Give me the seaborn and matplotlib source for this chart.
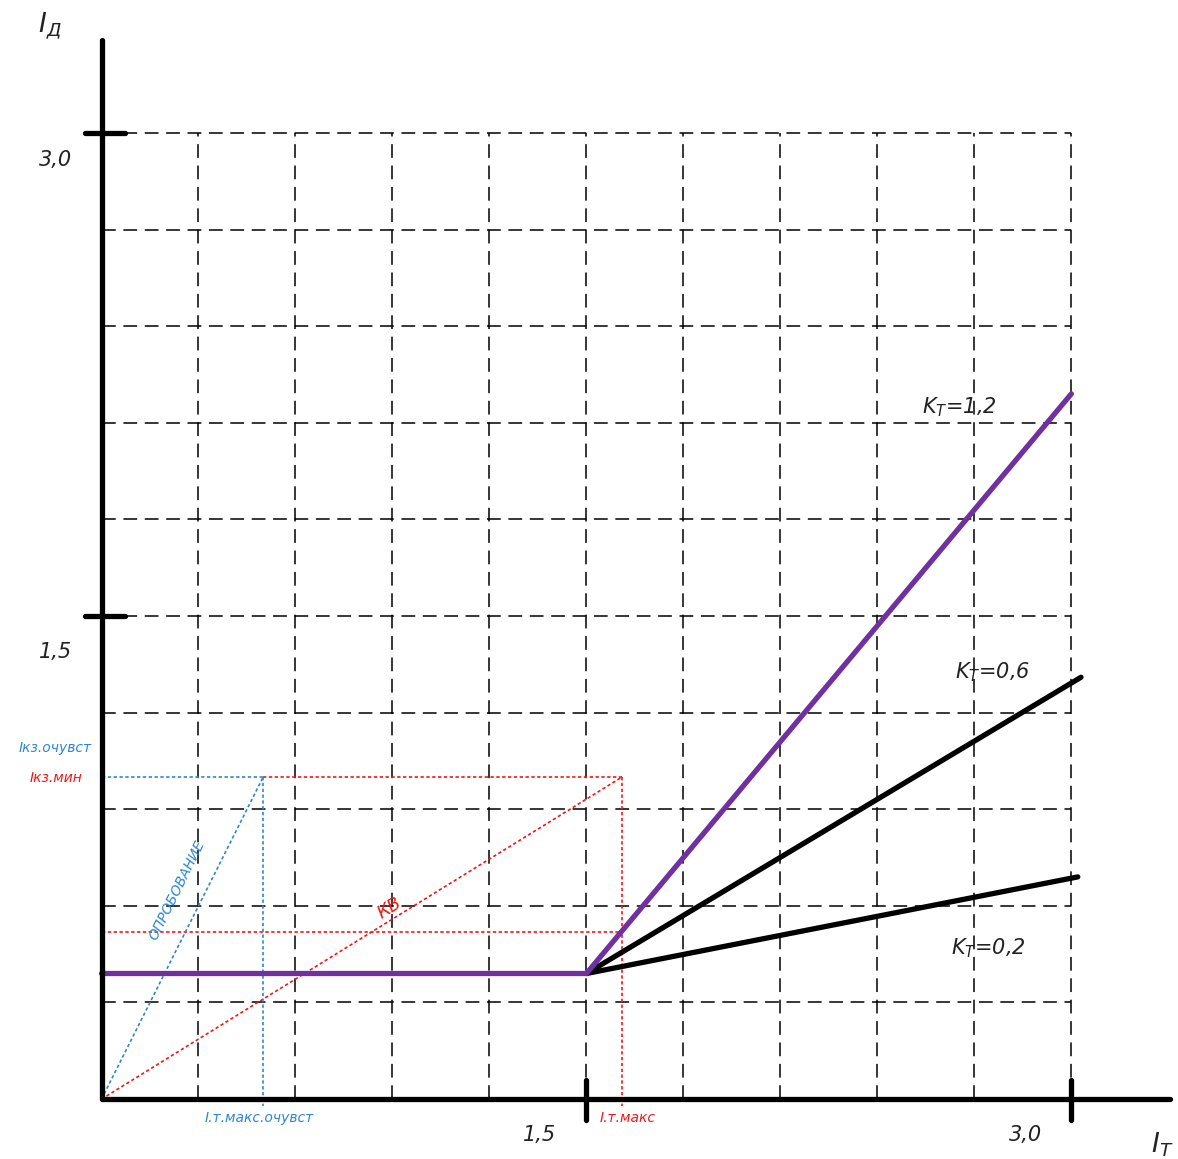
import numpy as np
import pandas as pd
import matplotlib
matplotlib.use('Agg')
import matplotlib.pyplot as plt
import seaborn as sns

# characteristic: I_d vs I_t
it_bend = 1.5
id_start = 0.39
purple_x = [0.0, 1.5, 3.0]
purple_y = [0.39, 0.39, 2.19]
kt06_x = [1.5, 3.03]
kt06_y = [0.39, 1.31]
kt02_x = [1.5, 3.02]
kt02_y = [0.39, 0.69]
kt_labels = ['1,2', '0,6', '0,2']

# red / blue construction lines
ikz_min = 1.0
it_max = 1.61
it_max_sens = 0.5
red_low = 0.52

grid_steps = np.arange(1, 11) * 0.3
tick_values = [1.5, 3.0]
tick_labels = ['1,5', '3,0']

RED = '#f01818'
BLUE = '#2f86d0'
PURPLE = '#7030a0'

sns.set_style('white')
plt.rcParams['font.family'] = ['Liberation Sans Narrow', 'DejaVu Sans']
plt.rcParams['mathtext.fontset'] = 'dejavusans'

fig = plt.figure(figsize=(11.78, 11.59), dpi=100)
ax = fig.add_axes([0, 0, 1, 1])
ax.set_xlim(-0.314, 3.33)
ax.set_ylim(-0.186, 3.413)
ax.axis('off')

# dashed grid
for g in grid_steps:
    ax.plot([g, g], [0, 3.0], color='black', lw=1.1, dashes=(9, 5), zorder=1)
    ax.plot([0, 3.0], [g, g], color='black', lw=1.1, dashes=(9, 5), zorder=1)

# construction lines
dot = dict(lw=1.2, dashes=(2, 1.5), zorder=2)
ax.plot([0, it_max], [0, ikz_min], color=RED, **dot)
ax.plot([it_max_sens, it_max], [ikz_min, ikz_min], color=RED, **dot)
ax.plot([it_max, it_max], [ikz_min, -0.02], color=RED, **dot)
ax.plot([0, it_max], [red_low, red_low], color=RED, **dot)
ax.plot([0, it_max_sens], [0, ikz_min], color=BLUE, **dot)
ax.plot([0, it_max_sens], [ikz_min, ikz_min], color=BLUE, **dot)
ax.plot([it_max_sens, it_max_sens], [ikz_min, -0.02], color=BLUE, **dot)

# characteristic lines
df_p = pd.DataFrame({'x': purple_x, 'y': purple_y})
sns.lineplot(data=df_p, x='x', y='y', ax=ax, color=PURPLE, lw=3.8, sort=False, zorder=4)
for xs, ys in [(kt06_x, kt06_y), (kt02_x, kt02_y)]:
    sns.lineplot(x=xs, y=ys, ax=ax, color='black', lw=3.8, zorder=3)

# axes
ax.plot([0, 0], [0, 3.29], color='black', lw=3.8, solid_capstyle='round', zorder=5)
ax.plot([0, 3.305], [0, 0], color='black', lw=3.8, solid_capstyle='round', zorder=5)
for t in tick_values:
    ax.plot([-0.051, 0.072], [t, t], color='black', lw=3.8, solid_capstyle='round', zorder=5)
    ax.plot([t, t], [0.06, -0.065], color='black', lw=3.8, solid_capstyle='round', zorder=5)

tx = dict(style='italic', color='#222222')
ax.text(-0.142, 2.916, tick_labels[1], fontsize=15, ha='center', va='center', **tx)
ax.text(-0.142, 1.388, tick_labels[0], fontsize=15, ha='center', va='center', **tx)
ax.text(1.356, -0.112, tick_labels[0], fontsize=15, ha='center', va='center', **tx)
ax.text(2.857, -0.112, tick_labels[1], fontsize=15, ha='center', va='center', **tx)
ax.text(-0.16, 3.335, r'I$_\mathregular{Д}$', fontsize=19, ha='center', va='center', **tx)
ax.text(3.28, -0.143, r'I$_\mathregular{Т}$', fontsize=19, ha='center', va='center', **tx)

kt_pos = [(2.655, 2.149), (2.757, 1.326), (2.742, 0.469)]
for (px, py), lab in zip(kt_pos, kt_labels):
    ax.text(px, py, r'K$_\mathregular{Т}$=' + lab, fontsize=15, ha='center', va='center', **tx)

ax.text(-0.03, 1.09, 'Iкз.очувст', fontsize=10, ha='right', va='center',
        style='italic', color=BLUE)
ax.text(-0.06, 0.997, 'Iкз.мин', fontsize=10, ha='right', va='center',
        style='italic', color=RED)
ax.text(0.32, -0.059, 'I.т.макс.очувст', fontsize=10, ha='left', va='center',
        style='italic', color=BLUE)
ax.text(1.54, -0.059, 'I.т.макс', fontsize=10, ha='left', va='center',
        style='italic', color=RED)
ax.text(0.234, 0.649, 'ОПРОБОВАНИЕ', fontsize=10, ha='center', va='center',
        rotation=63.7, rotation_mode='anchor', style='italic', color=BLUE)
ax.text(0.892, 0.593, 'КВ', fontsize=13, ha='center', va='center',
        rotation=32, rotation_mode='anchor', style='italic', color=RED)

fig.savefig('out.png', dpi=100, facecolor='white')
